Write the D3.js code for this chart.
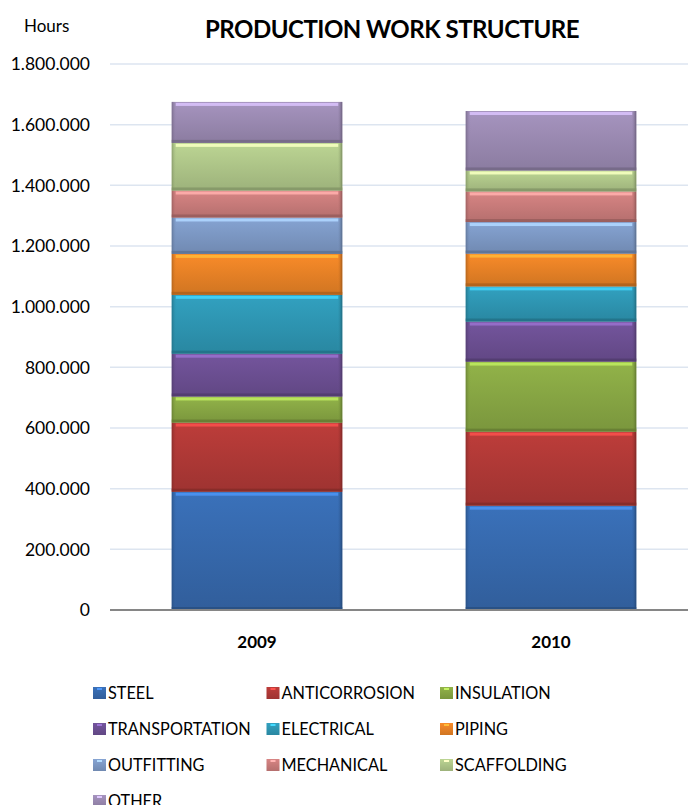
<!DOCTYPE html>
<html>
<head>
<meta charset="utf-8">
<script src="https://cdn.jsdelivr.net/npm/d3@7"></script>
<style>
  body { margin: 0; background: #fff; }
  svg { display: block; font-family: Lato, "Open Sans", sans-serif; }
</style>
</head>
<body>
<div id="chart"></div>
<script>
// data
const years = ["2009", "2010"];
const series = ["STEEL", "ANTICORROSION", "INSULATION", "TRANSPORTATION", "ELECTRICAL",
  "PIPING", "OUTFITTING", "MECHANICAL", "SCAFFOLDING", "OTHER"];
const values2009 = [390000, 228000, 86000, 141000, 194000, 135000, 120000, 89000, 157000, 135000];
const values2010 = [344000, 244000, 231000, 132000, 116000, 108000, 104000, 101000, 69000, 196000];
const yTicks = [0, 200000, 400000, 600000, 800000, 1000000, 1200000, 1400000, 1600000, 1800000];
const colors = ["#376BB0", "#B33A37", "#8AAA45", "#6E5195", "#2F99B6",
  "#EC8427", "#7F9BC8", "#CD7E7D", "#B2CA8B", "#9D8CB5"];

const W = 688, H = 805;
const margin = { top: 64, left: 110 };
const plotW = 588, plotH = 546;

const svg = d3.select("#chart").append("svg").attr("width", W).attr("height", H);
const defs = svg.append("defs");

// bevel-ish gradients
colors.forEach((c, i) => {
  const g = defs.append("linearGradient").attr("id", "g" + i)
    .attr("x1", 0).attr("y1", 0).attr("x2", 0).attr("y2", 1);
  g.append("stop").attr("offset", "0%").attr("stop-color", d3.color(c).brighter(0.15));
  g.append("stop").attr("offset", "100%").attr("stop-color", d3.color(c).darker(0.35));
  const h = defs.append("linearGradient").attr("id", "s" + i)
    .attr("x1", 0).attr("y1", 0).attr("x2", 1).attr("y2", 0);
  h.append("stop").attr("offset", "0%").attr("stop-color", d3.color(c).darker(0.9)).attr("stop-opacity", 0.8);
  h.append("stop").attr("offset", "3%").attr("stop-color", c).attr("stop-opacity", 0);
  h.append("stop").attr("offset", "97%").attr("stop-color", c).attr("stop-opacity", 0);
  h.append("stop").attr("offset", "100%").attr("stop-color", d3.color(c).darker(1.2)).attr("stop-opacity", 0.9);
});

const x = d3.scaleBand().domain(years).range([margin.left, margin.left + plotW]).paddingInner(0.42).paddingOuter(0.21);
const y = d3.scaleLinear().domain([0, 1800000]).range([margin.top + plotH, margin.top]);

const fmt = v => d3.format(",")(v).replace(/,/g, ".");

// gridlines
svg.append("g").selectAll("line").data(yTicks.slice(1)).join("line")
  .attr("x1", margin.left).attr("x2", W)
  .attr("y1", d => y(d)).attr("y2", d => y(d))
  .attr("stroke", "#dde5f0").attr("stroke-width", 1.5);

// y labels
svg.append("g").selectAll("text").data(yTicks).join("text")
  .attr("x", 90).attr("y", d => y(d)).attr("dy", "0.36em")
  .attr("text-anchor", "end").attr("font-size", 17.5).attr("fill", "#000")
  .text(fmt);

// stacks
const rows = years.map((yr, j) => {
  const vals = j === 0 ? values2009 : values2010;
  const o = { year: yr };
  series.forEach((s, i) => o[s] = vals[i]);
  return o;
});
const stacked = d3.stack().keys(series)(rows);

const layers = svg.append("g").selectAll("g").data(stacked).join("g");
layers.each(function(layer, i) {
  const g = d3.select(this);
  layer.forEach(d => {
    const x0 = x(d.data.year), bw = x.bandwidth();
    const y0 = y(d[1]), hh = y(d[0]) - y(d[1]);
    g.append("rect").attr("x", x0).attr("y", y0).attr("width", bw).attr("height", hh)
      .attr("fill", `url(#g${i})`);
    g.append("rect").attr("x", x0).attr("y", y0).attr("width", bw).attr("height", hh)
      .attr("fill", `url(#s${i})`);
    // top highlight
    g.append("rect").attr("x", x0 + 4).attr("y", y0 + 1).attr("width", bw - 8).attr("height", 3)
      .attr("fill", d3.color(colors[i]).brighter(0.9)).attr("opacity", 0.9);
    // bottom shade
    g.append("rect").attr("x", x0).attr("y", y0 + hh - 3).attr("width", bw).attr("height", 3)
      .attr("fill", d3.color(colors[i]).darker(0.9)).attr("opacity", 0.8);
  });
});

// x axis line
svg.append("line").attr("x1", margin.left).attr("x2", W)
  .attr("y1", y(0)).attr("y2", y(0)).attr("stroke", "#868686").attr("stroke-width", 2);

svg.append("g").selectAll("text").data(years).join("text")
  .attr("x", d => x(d) + x.bandwidth() / 2).attr("y", 648)
  .attr("text-anchor", "middle").attr("font-size", 17).attr("font-weight", "bold")
  .text(d => d);

// titles
svg.append("text").attr("x", 24).attr("y", 32).attr("font-size", 17).text("Hours");
svg.append("text").attr("x", 392).attr("y", 38).attr("text-anchor", "middle")
  .attr("font-size", 24).attr("font-weight", "bold").attr("letter-spacing", -0.5)
  .text("PRODUCTION WORK STRUCTURE");

// legend
const legend = svg.append("g").selectAll("g").data(series).join("g")
  .attr("transform", (d, i) => `translate(${93 + (i % 3) * 173.5},${693 + Math.floor(i / 3) * 36})`);
legend.append("rect").attr("x", 0).attr("y", -6).attr("width", 13).attr("height", 12)
  .attr("fill", (d, i) => `url(#g${i})`);
legend.append("rect").attr("x", 4).attr("y", -5).attr("width", 5).attr("height", 2)
  .attr("fill", (d, i) => d3.color(colors[i]).brighter(1));
legend.append("text").attr("x", 15).attr("y", 0).attr("dy", "0.36em")
  .attr("font-size", 16.3).text(d => d);
</script>
</body>
</html>
